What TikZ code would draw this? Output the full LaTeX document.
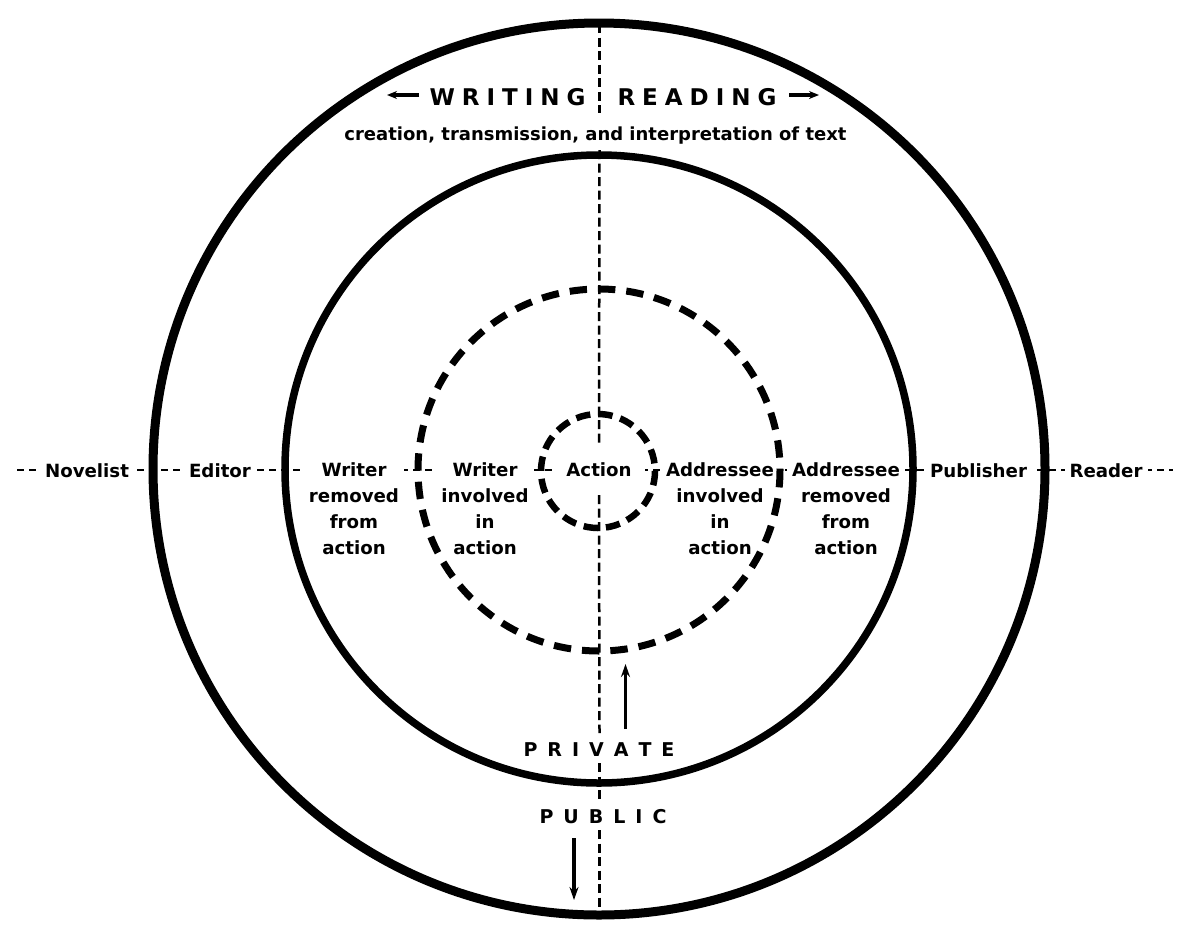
\documentclass[tikz,border=0pt]{standalone}
\usepackage{fontspec}
\setmainfont{DejaVu Sans}
\usetikzlibrary{arrows.meta}
\def\lspgo#1{\ifx#1\relax\else#1\expandafter\lspnext\fi}
\def\lspnext#1{\ifx#1\relax\else\hspace{\lspamt}#1\expandafter\lspnext\fi}
\newcommand\lspaced[2]{\def\lspamt{#1}\lspgo#2\relax}
\newcommand\lblfont{\fontsize{18.2}{26.3}\selectfont\bfseries}
\begin{document}
\begin{tikzpicture}[x=1pt,y=-1pt,
  lbl/.style={font=\lblfont, fill=white, inner xsep=5pt, inner ysep=1pt, align=center},
  hline/.style={line width=2.5pt, dash pattern=on 7pt off 5pt},
  vline/.style={line width=2.5pt, dash pattern=on 9pt off 4.5pt},
  ring/.style={line width=#1},
  dring/.style={line width=7pt, dash pattern=on 17.4pt off 11pt},
  sring/.style={line width=6.5pt, dash pattern=on 14.4pt off 8pt},
  arr/.style={line width=3.5pt, -{Stealth[length=13pt,width=9pt]}},
  caps/.style={font=\fontsize{#1}{#1}\selectfont\bfseries, inner sep=0pt}
]
\useasboundingbox (0,0) rectangle (1193,927);
\coordinate (C) at (599,469);

% horizontal dashed axis
\coordinate (hl) at (17,470);
\coordinate (hr) at (1173,470);
\draw[hline] (hl) -- (hr);

% labels on the axis
\node[lbl, anchor=base] (nov) at (87,477) {Novelist};
\node[lbl, anchor=base] (edi) at (220,477) {Editor};
\node[lbl, anchor=north] (wrr) at (354,461) {Writer\\removed\\from\\action};
\node[lbl, anchor=north] (wri) at (485,461) {Writer\\involved\\in\\action};
\node[lbl, inner xsep=13pt, minimum height=50pt] (act) at (599,470) {Action};
\node[lbl, anchor=north] (adi) at (720,461) {Addressee\\involved\\in\\action};
\node[lbl, anchor=north] (adr) at (846,461) {Addressee\\removed\\from\\action};
\node[lbl, anchor=base] (pub) at (978.5,477) {Publisher};
\node[lbl, anchor=base] (rea) at (1106,477) {Reader};

% top texts
\node[caps=23, anchor=base] (wtg) at (507.5,105) {\lspaced{7pt}{WRITING}};
\node[caps=23, anchor=base] (rdg) at (697,105) {\lspaced{7pt}{READING}};
\node[font=\fontsize{18}{24}\selectfont\bfseries, anchor=base, inner sep=0pt] (cre) at (595.5,140)
  {creation, transmission, and interpretation of text};

% bottom texts
\node[caps=19, anchor=base] (prv) at (599,756) {\lspaced{10pt}{PRIVATE}};
\node[caps=19, anchor=base] (pbl) at (603,823) {\lspaced{10pt}{PUBLIC}};

% vertical dashed axis, in segments
\coordinate (v0) at (599.5,24);
\coordinate (v1) at (599.5,113);
\coordinate (v2) at (599.5,150);
\coordinate (v3) at (599.5,733);
\coordinate (v4) at (599.5,763);
\coordinate (v5) at (599.5,803);
\coordinate (v6) at (599.5,830);
\coordinate (v7) at (599.5,913);
\draw[vline] (v0) -- (v1);
\draw[vline] (v2) -- (act.north);
\draw[vline] (act.south) -- (v3);
\draw[vline] (v4) -- (v5);
\draw[vline] (v6) -- (v7);

% circles
\draw[ring=9pt] (C) circle[radius=446];
\draw[ring=7.5pt] (C) circle[radius=314];
\draw[dring] (599,470) circle[radius=181];
\draw[sring] (598,471) circle[radius=57];

% arrows
\coordinate (la1) at (419,95);
\coordinate (la2) at (387,95);
\coordinate (ra1) at (789,95);
\coordinate (ra2) at (819,95);
\draw[arr, -{Stealth[length=10pt,width=8pt]}] (la1) -- (la2);
\draw[arr, -{Stealth[length=10pt,width=8pt]}] (ra1) -- (ra2);
\coordinate (ua1) at (625.5,729);
\coordinate (ua2) at (625.5,664);
\coordinate (da1) at (574,838);
\coordinate (da2) at (574,900);
\draw[arr] (ua1) -- (ua2);
\draw[arr] (da1) -- (da2);
\end{tikzpicture}
\end{document}
